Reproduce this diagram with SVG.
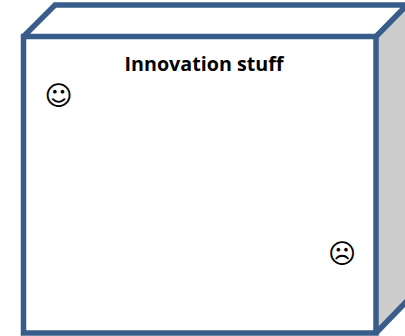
<svg xmlns="http://www.w3.org/2000/svg" width="405" height="336" viewBox="0 0 405 336">
<style>
.edge{fill:none;stroke:#385d8a;stroke-width:5.500;stroke-linejoin:miter}
.title{font-family:"Open Sans","Liberation Sans",sans-serif;font-weight:700;font-size:19.500px;fill:#000}
.face{font-family:"DejaVu Sans",sans-serif;font-size:27px;fill:#000;text-anchor:middle}
</style>
<rect width="405" height="336" fill="#fff"/>
<g id="box">
<path d="M376 36.500L407 5V301L376 333Z" fill="#cdcdcd"/>
<path class="edge" d="M23.500 36.500L55 5H407L376 36.500"/>
<path class="edge" d="M407 301L376 333"/>
<rect class="edge" x="23.500" y="36.500" width="352.500" height="296.500"/>
</g>
<g id="label"><text class="title" x="204" y="70.500" text-anchor="middle" textLength="159" lengthAdjust="spacingAndGlyphs">Innovation stuff</text></g>
<g id="happy"><text class="face" x="58.500" y="105">☺</text></g>
<g id="sad"><text class="face" x="342" y="262.500">☹</text></g>
</svg>
